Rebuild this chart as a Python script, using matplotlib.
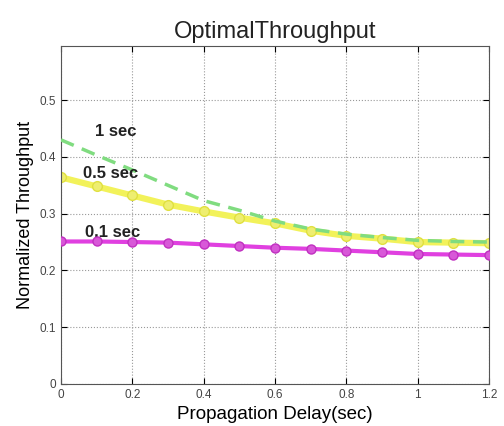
import matplotlib.pyplot as plt
import numpy as np

plt.rcParams['font.family'] = ['Liberation Sans', 'DejaVu Sans']

delay = np.arange(0, 1.21, 0.1)
tp_1s = [0.430, 0.403, 0.377, 0.350, 0.323, 0.306, 0.287, 0.273, 0.264, 0.258, 0.253, 0.251, 0.250]
tp_05s = [0.364, 0.348, 0.332, 0.316, 0.304, 0.293, 0.283, 0.270, 0.261, 0.256, 0.250, 0.249, 0.248]
tp_01s = [0.251, 0.251, 0.250, 0.249, 0.246, 0.243, 0.240, 0.238, 0.235, 0.232, 0.229, 0.228, 0.227]

fig = plt.figure(figsize=(5.04, 4.26), dpi=100)
ax = fig.add_axes([0.121, 0.0986, 0.849, 0.793])

ax.plot(delay, tp_05s, color='#f2f25a', lw=4.5, marker='o', ms=7, mfc='#eeee70', mec='#e0e040', zorder=2)
ax.plot(delay, tp_1s, color='#80dc80', lw=2.5, ls=(0, (4, 2.5)), zorder=3)
ax.plot(delay, tp_01s, color='#e040e0', lw=3, marker='o', ms=6.5, mfc='#d858d8', mec='#c030c0', zorder=4)

ax.text(0.095, 0.432, '1 sec', fontsize=12, fontweight='bold', color='#222222', ha='left', va='bottom')
ax.text(0.062, 0.357, '0.5 sec', fontsize=12, fontweight='bold', color='#222222', ha='left', va='bottom')
ax.text(0.067, 0.254, '0.1 sec', fontsize=12, fontweight='bold', color='#222222', ha='left', va='bottom')

ax.set_xlim(0, 1.2)
ax.set_ylim(0, 0.595)
ax.set_xticks([0, 0.2, 0.4, 0.6, 0.8, 1.0, 1.2])
ax.set_xticklabels(['0', '0.2', '0.4', '0.6', '0.8', '1', '1.2'])
ax.set_yticks([0, 0.1, 0.2, 0.3, 0.4, 0.5])
ax.set_yticklabels(['0', '0.1', '0.2', '0.3', '0.4', '0.5'])
ax.tick_params(direction='in', top=True, right=True, labelsize=8.5, labelcolor='#444444', length=4)
ax.grid(True, ls=':', color='#999999', lw=0.8)
for s in ax.spines.values():
    s.set_color('#555555')

ax.set_title('OptimalThroughput', fontsize=17, color='#222222')
ax.set_xlabel('Propagation Delay(sec)', fontsize=13.5)
ax.set_ylabel('Normalized Throughput', fontsize=13)

fig.savefig('out.png', dpi=100)
